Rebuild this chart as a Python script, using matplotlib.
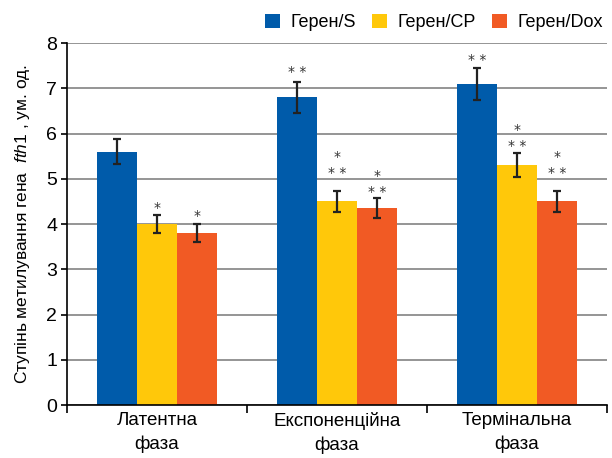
import matplotlib.pyplot as plt
import numpy as np

plt.rcParams['font.family'] = ['Liberation Sans', 'DejaVu Sans']
plt.rcParams['mathtext.fontset'] = 'custom'
plt.rcParams['mathtext.it'] = 'Liberation Sans:italic'
plt.rcParams['mathtext.rm'] = 'Liberation Sans'

phases = ["Латентна\nфаза", "Експоненційна\nфаза", "Термінальна\nфаза"]
series = ["Герен/S", "Герен/CP", "Герен/Dox"]

values_s = [5.6, 6.8, 7.1]
values_cp = [4.0, 4.5, 5.3]
values_dox = [3.8, 4.35, 4.5]

err_s = [0.28, 0.34, 0.35]
err_cp = [0.2, 0.23, 0.27]
err_dox = [0.19, 0.22, 0.23]

# significance marks (lines from top to bottom)
marks_s = [[], ["* *"], ["* *"]]
marks_cp = [["*"], ["*", "* *"], ["*", "* *"]]
marks_dox = [["*"], ["*", "* *"], ["*", "* *"]]

colors = ["#005BAA", "#FFC80A", "#F15A24"]

fig = plt.figure(figsize=(6.12, 4.58), dpi=100)
ax = fig.add_axes([0.1095, 0.1157, 0.8825, 0.7903])

x = np.arange(len(phases))
w = 2 / 9
all_vals = [values_s, values_cp, values_dox]
all_err = [err_s, err_cp, err_dox]
all_marks = [marks_s, marks_cp, marks_dox]
# pixel lift of the lowest mark line above each error bar
lift = [[0, 10, 8], [7, 18, 7], [8, 6, 18]]

for i in range(3):
    pos = x + (i - 1) * w
    ax.bar(pos, all_vals[i], width=w, color=colors[i], label=series[i], zorder=2)
    ax.errorbar(pos, all_vals[i], yerr=all_err[i], fmt='none', ecolor='#222222',
                elinewidth=1.6, capsize=3, capthick=1.6, zorder=3)
    for j in range(3):
        top = all_vals[i][j] + all_err[i][j]
        lines = all_marks[i][j]
        for k, m in enumerate(reversed(lines)):
            ax.annotate(m, xy=(pos[j], top), xytext=(0, lift[i][j] + 16 * k),
                        textcoords='offset pixels', ha='center', va='center',
                        fontsize=10, color='#333333', family='DejaVu Sans')

ax.set_xlim(-0.5, 2.5)
ax.set_ylim(0, 8)
ax.set_yticks(range(9))
ax.tick_params(axis='y', labelsize=14, length=4, direction='out', width=1.2, pad=3)
ax.yaxis.grid(True, color='#8c8c8c', linewidth=1.3, zorder=0)
ax.set_axisbelow(True)

ax.set_xticks([-0.5, 0.5, 1.5, 2.5])
ax.set_xticklabels([])
ax.set_xticks(x, minor=True)
ax.set_xticklabels(phases, minor=True, fontsize=13.5, linespacing=1.45)
ax.tick_params(axis='x', which='major', length=6, width=1.2, direction='out')
ax.tick_params(axis='x', which='minor', length=0, pad=5)

for s in ['top', 'right']:
    ax.spines[s].set_visible(False)
for s in ['left', 'bottom']:
    ax.spines[s].set_linewidth(1.2)

ax.set_ylabel("Ступінь метилування гена  $fth1$ , ум. од.", fontsize=12.5, labelpad=10)

fig.legend(loc='center right', bbox_to_anchor=(1.0, 0.95), ncol=3, frameon=False,
           fontsize=13, handlelength=0.8, handleheight=0.8, handletextpad=0.6,
           columnspacing=0.9, borderaxespad=0.1)

fig.savefig("out.png", dpi=100)
